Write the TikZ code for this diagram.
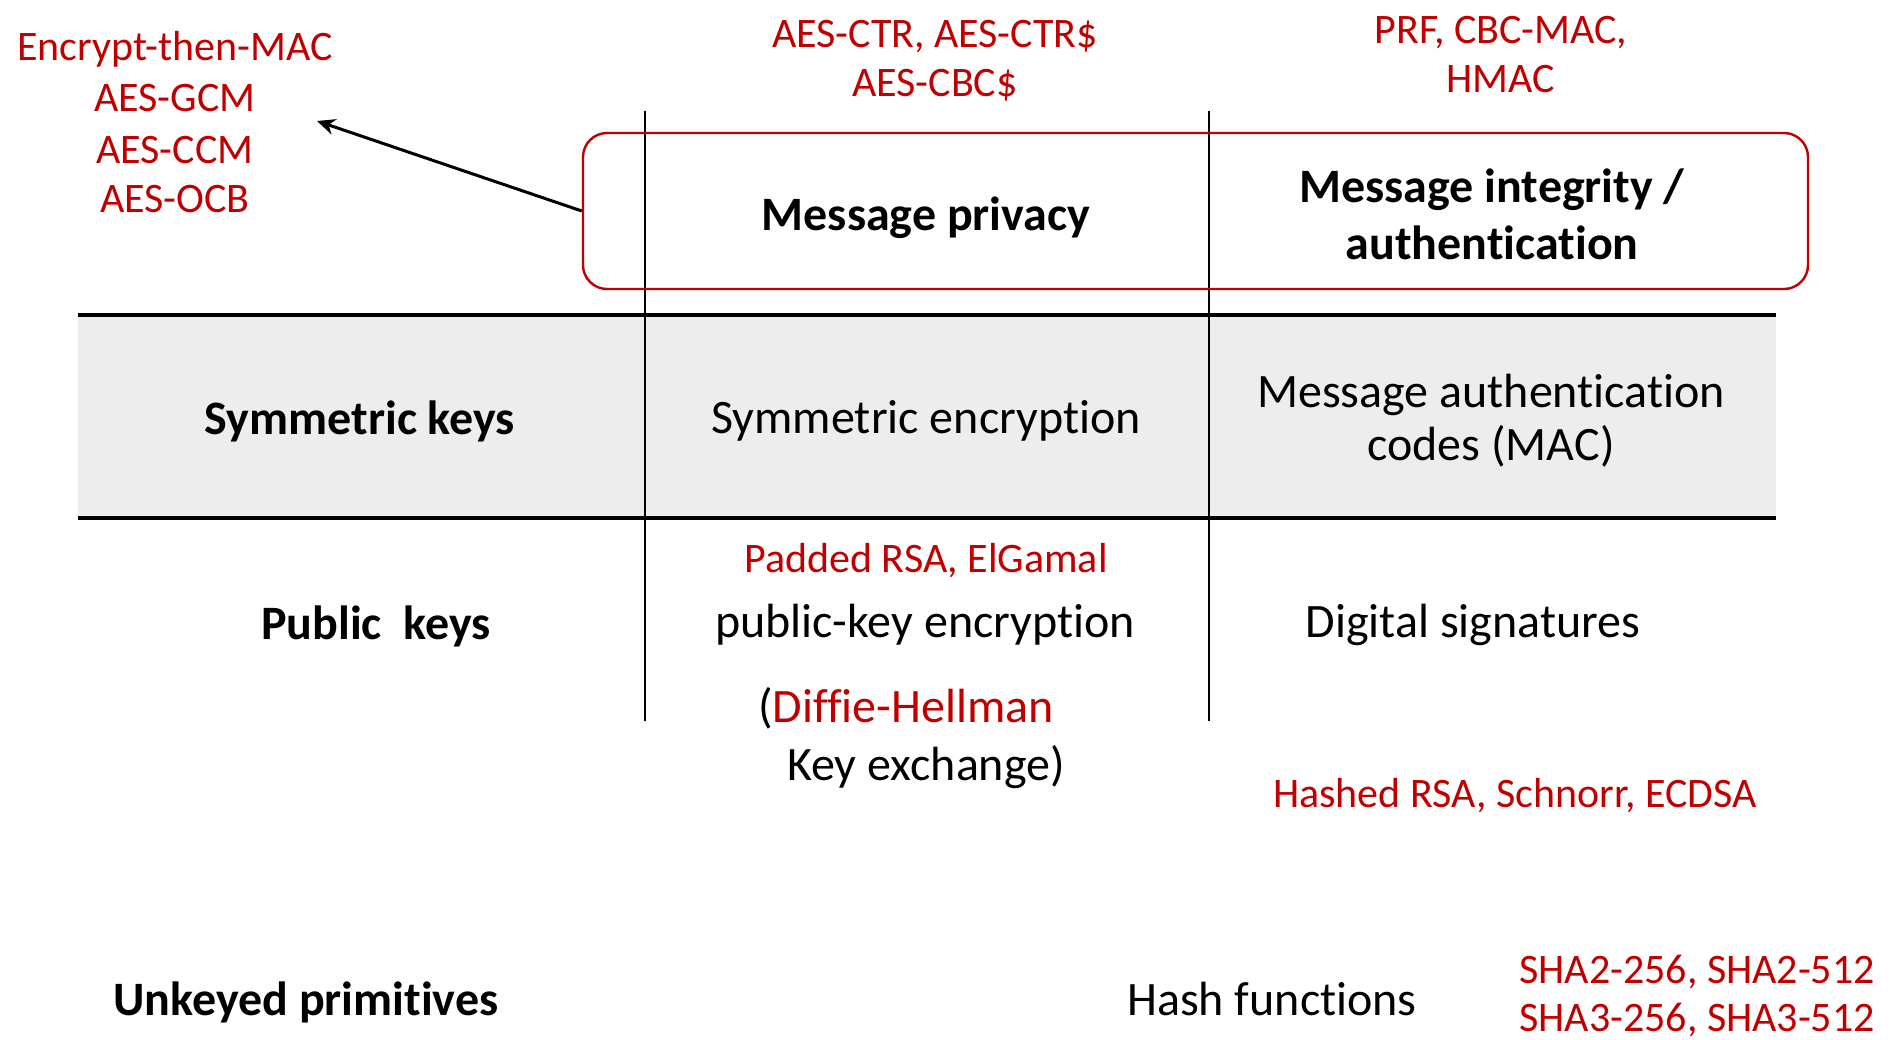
\documentclass[tikz,border=0pt]{standalone}
\usepackage{fontspec}
\setmainfont{Carlito}[Ligatures={CommonOff,ContextualOff}]
\usetikzlibrary{arrows.meta}
\definecolor{myred}{HTML}{C00000}
\definecolor{mygray}{HTML}{EDEDED}
\begin{document}
\begin{tikzpicture}[x=0.5pt,y=-0.5pt,
  redtxt/.style={text=myred,font=\fontsize{21}{25}\selectfont,inner sep=0pt,anchor=center,yshift=-1.5pt},
  blktxt/.style={text=black,font=\fontsize{24}{28}\selectfont,inner sep=0pt,anchor=center,yshift=-1.5pt},
  boldtxt/.style={text=black,font=\fontsize{24}{28}\selectfont\bfseries,inner sep=0pt,anchor=center,yshift=-1.5pt},
  tline/.style={line width=2pt,black},
  vline/.style={line width=1pt,black},
  hdrbox/.style={draw=myred,line width=1.2pt,rounded corners=12pt,inner sep=0pt}]
\useasboundingbox (0,0) rectangle (1890,1039);
% grey band
\fill[mygray] (78,315) rectangle (1776,518);
% table lines
\coordinate (h1a) at (78,315); \coordinate (h1b) at (1776,315);
\coordinate (h2a) at (78,518); \coordinate (h2b) at (1776,518);
\coordinate (v1a) at (645,111); \coordinate (v1b) at (645,721);
\coordinate (v2a) at (1209,111); \coordinate (v2b) at (1209,721);
\draw[tline] (h1a) -- (h1b);
\draw[tline] (h2a) -- (h2b);
\draw[vline] (v1a) -- (v1b);
\draw[vline] (v2a) -- (v2b);
% header box
\node[hdrbox, minimum width=1225*0.5pt, minimum height=156*0.5pt] (hdr) at (1195.5,211) {};
\coordinate (arrtip) at (317,121);
\draw[line width=1.5pt,-{Stealth[length=9pt,width=8pt]}] (hdr.west) -- (arrtip);
% top-left red list
\node[redtxt] (etm) at (175,46) {Encrypt-then-MAC};
\node[redtxt] (gcm) at (175,95) {AES-GCM};
\node[redtxt] (ccm) at (175,147) {AES-CCM};
\node[redtxt] (ocb) at (175,196) {AES-OCB};
% top red labels
\node[redtxt] (ctr) at (935,34) {AES-CTR, AES-CTR\$};
\node[redtxt] (cbc) at (935,82) {AES-CBC\$};
\node[redtxt] (prf) at (1501,30) {PRF, CBC-MAC,};
\node[redtxt] (hmac) at (1501,76) {HMAC};
% header texts
\node[boldtxt] (priv) at (926,215) {Message privacy};
\node[boldtxt] (integ1) at (1492,187) {Message integrity /};
\node[boldtxt] (integ2) at (1492,240) {authentication};
% symmetric row
\node[boldtxt] (symk) at (360,418) {Symmetric keys};
\node[blktxt] (syme) at (926,418) {Symmetric encryption};
\node[blktxt] (mac1) at (1491,392) {Message authentication};
\node[blktxt] (mac2) at (1491,443) {codes (MAC)};
% public row
\node[redtxt] (prsa) at (926,558) {Padded RSA, ElGamal};
\node[boldtxt] (pubk) at (376,623) {Public\ \ keys};
\node[blktxt] (pke) at (925,622) {public-key encryption};
\node[blktxt] (dsig) at (1473,622) {Digital signatures};
\node[blktxt] (dh) at (906,705) {(\textcolor{myred}{Diffie-Hellman}};
\node[blktxt] (kex) at (926,764) {Key exchange)};
\node[redtxt] (hrsa) at (1515,793) {Hashed RSA, Schnorr, ECDSA};
% unkeyed row
\node[boldtxt] (unk) at (306,999) {Unkeyed primitives};
\node[blktxt] (hash) at (1272,996) {Hash functions};
\node[redtxt] (sha2) at (1697,969) {SHA2-256, SHA2-512};
\node[redtxt] (sha3) at (1697,1017) {SHA3-256, SHA3-512};
\end{tikzpicture}
\end{document}
